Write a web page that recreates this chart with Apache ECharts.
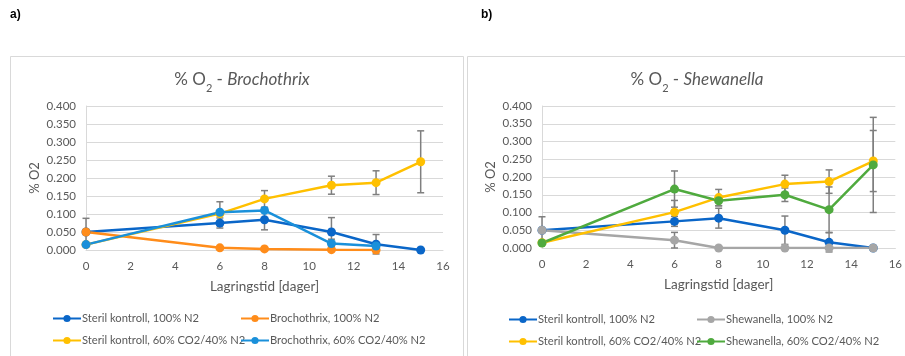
<!DOCTYPE html>
<html>
<head>
<meta charset="utf-8">
<script src="https://cdn.jsdelivr.net/npm/echarts@6/dist/echarts.min.js"></script>
<style>
  html, body { margin: 0; padding: 0; background: #fff; }
  #chart { width: 905px; height: 356px; }
</style>
</head>
<body>
<div id="chart"></div>
<script>
// storage days
const days = [0, 6, 8, 11, 13, 15]
const yTicks = { min: 0, max: 0.4, step: 0.05 }
const xTicks = { min: 0, max: 16, step: 2 }

// shared control series (both panels)
const sterilN2 = [0.050, 0.075, 0.084, 0.050, 0.016, 0.000]
const sterilN2Err = [0.038, 0.014, 0.028, 0.040, 0.027, 0]
const sterilCO2 = [0.015, 0.101, 0.142, 0.180, 0.187, 0.245]
const sterilCO2Err = [0, 0.033, 0.023, 0.025, 0.033, 0.086]

// a) Brochothrix
const brochoN2 = [0.050, 0.006, 0.003, 0.001, 0.000, null]
const brochoN2Err = [0, 0, 0, 0, 0, null]
const brochoCO2 = [0.015, 0.105, 0.110, 0.018, 0.011, null]
const brochoCO2Err = [0, 0, 0, 0.012, 0, null]

// b) Shewanella
const shewN2 = [0.050, 0.022, 0.000, 0.000, 0.000, 0.000]
const shewN2Err = [0, 0.022, 0, 0, 0, 0]
const shewCO2 = [0.014, 0.166, 0.133, 0.150, 0.108, 0.234]
const shewCO2Err = [0, 0.051, 0.014, 0.019, 0.064, 0.134]

const names = {
  sN2: 'Steril kontroll, 100% N2',
  sCO2: 'Steril kontroll, 60% CO2/40% N2',
  bN2: 'Brochothrix, 100% N2',
  bCO2: 'Brochothrix, 60% CO2/40% N2',
  wN2: 'Shewanella, 100% N2',
  wCO2: 'Shewanella, 60% CO2/40% N2'
}
const colors = {
  sN2: '#0A66C8',
  sCO2: '#FFC000',
  bN2: '#FF8C1A',
  bCO2: '#1A90DA',
  wN2: '#A6A6A6',
  wCO2: '#4FAA3E'
}

const FONT = 'Lato'
const TXT = '#595959'

function pairs(vals) {
  const out = []
  vals.forEach((v, i) => { if (v !== null) out.push([days[i], v]) })
  return out
}

function lineSeries(key, vals, idx) {
  return {
    name: names[key],
    type: 'line',
    xAxisIndex: idx,
    yAxisIndex: idx,
    data: pairs(vals),
    symbol: 'circle',
    symbolSize: 9,
    lineStyle: { width: 2.5, color: colors[key] },
    itemStyle: { color: colors[key] },
    z: 3
  }
}

function errSeries(vals, errs, idx) {
  const data = []
  vals.forEach((v, i) => {
    if (v !== null && errs[i]) data.push([days[i], v - errs[i], v + errs[i]])
  })
  return {
    type: 'custom',
    name: 'err',
    xAxisIndex: idx,
    yAxisIndex: idx,
    data: data,
    z: 2,
    silent: true,
    renderItem: function (params, api) {
      const lo = api.coord([api.value(0), api.value(1)])
      const hi = api.coord([api.value(0), api.value(2)])
      const w = 3.5
      const st = { stroke: '#7F7F7F', lineWidth: 1.5 }
      return {
        type: 'group',
        children: [
          { type: 'line', shape: { x1: lo[0], y1: lo[1], x2: hi[0], y2: hi[1] }, style: st },
          { type: 'line', shape: { x1: lo[0] - w, y1: lo[1], x2: lo[0] + w, y2: lo[1] }, style: st },
          { type: 'line', shape: { x1: hi[0] - w, y1: hi[1], x2: hi[0] + w, y2: hi[1] }, style: st }
        ]
      }
    }
  }
}

function xAxis(idx) {
  return {
    type: 'value', gridIndex: idx,
    min: xTicks.min, max: xTicks.max, interval: xTicks.step,
    name: 'Lagringstid [dager]', nameLocation: 'middle', nameGap: 30,
    nameTextStyle: { color: TXT, fontFamily: FONT, fontSize: 13.5 },
    axisLine: { lineStyle: { color: '#D9D9D9', width: 1 } },
    axisTick: { show: false },
    splitLine: { show: false },
    axisLabel: { color: TXT, fontFamily: FONT, fontSize: 11.5, margin: 10 }
  }
}

function yAxis(idx) {
  return {
    type: 'value', gridIndex: idx,
    min: yTicks.min, max: yTicks.max, interval: yTicks.step,
    name: '% O2', nameLocation: 'middle', nameGap: 45,
    nameTextStyle: { color: TXT, fontFamily: FONT, fontSize: 13 },
    axisLine: { show: true, lineStyle: { color: '#D9D9D9', width: 1 } },
    axisTick: { show: false },
    splitLine: { lineStyle: { color: '#D9D9D9', width: 1 } },
    axisLabel: { color: TXT, fontFamily: FONT, fontSize: 11.5, margin: 10, formatter: v => v.toFixed(3) }
  }
}

// one legend box per entry, so the 2x2 layout is fixed
function legendItem(name, left, top) {
  return {
    data: [name], left: left, top: top, padding: 0,
    itemWidth: 28, itemHeight: 9,
    textStyle: { color: TXT, fontFamily: FONT, fontSize: 11.2, padding: [0, 0, 0, -4] },
    selectedMode: false
  }
}

const titleRich = {
  n: { fontFamily: FONT, fontSize: 17, color: TXT, fontWeight: 'normal' },
  sub: { fontFamily: FONT, fontSize: 11, color: TXT, fontWeight: 'normal', verticalAlign: 'bottom', lineHeight: 28 },
  it: { fontFamily: FONT, fontSize: 17, color: TXT, fontStyle: 'italic', fontWeight: 'normal' }
}

const chart = echarts.init(document.getElementById('chart'))
chart.setOption({
  animation: false,
  backgroundColor: '#fff',
  graphic: [
    { type: 'rect', shape: { x: 10.5, y: 56.5, width: 453, height: 320 }, style: { fill: 'none', stroke: '#D9D9D9', lineWidth: 1 } },
    { type: 'rect', shape: { x: 467.5, y: 56.5, width: 460, height: 320 }, style: { fill: 'none', stroke: '#D9D9D9', lineWidth: 1 } },
    { type: 'text', left: 10, top: 9, style: { text: 'a)', fontFamily: 'Liberation Sans', fontWeight: 'bold', fontSize: 12, fill: '#000' } },
    { type: 'text', left: 481, top: 9, style: { text: 'b)', fontFamily: 'Liberation Sans', fontWeight: 'bold', fontSize: 12, fill: '#000' } }
  ],
  title: [
    { text: '{n|% O}{sub|2}{n| - }{it|Brochothrix}', left: 237, top: 61, textAlign: 'center', textStyle: { fontWeight: 'normal', rich: titleRich } },
    { text: '{n|% O}{sub|2}{n| - }{it|Shewanella}', left: 692, top: 61, textAlign: 'center', textStyle: { fontWeight: 'normal', rich: titleRich } }
  ],
  grid: [
    { left: 86, right: 462, top: 106, bottom: 106 },
    { left: 542, right: 8, top: 106, bottom: 108 }
  ],
  xAxis: [xAxis(0), xAxis(1)],
  yAxis: [yAxis(0), yAxis(1)],
  legend: [
    legendItem(names.sN2, 52, 313),
    legendItem(names.bN2, 240, 313),
    legendItem(names.sCO2, 52, 335),
    legendItem(names.bCO2, 240, 335),
    legendItem(names.sN2, 508, 314),
    legendItem(names.wN2, 696, 314),
    legendItem(names.sCO2, 508, 336),
    legendItem(names.wCO2, 696, 336)
  ],
  series: [
    errSeries(sterilN2, sterilN2Err, 0),
    errSeries(brochoN2, brochoN2Err, 0),
    errSeries(sterilCO2, sterilCO2Err, 0),
    errSeries(brochoCO2, brochoCO2Err, 0),
    lineSeries('sN2', sterilN2, 0),
    lineSeries('bN2', brochoN2, 0),
    lineSeries('sCO2', sterilCO2, 0),
    lineSeries('bCO2', brochoCO2, 0),
    errSeries(sterilN2, sterilN2Err, 1),
    errSeries(shewN2, shewN2Err, 1),
    errSeries(sterilCO2, sterilCO2Err, 1),
    errSeries(shewCO2, shewCO2Err, 1),
    lineSeries('sN2', sterilN2, 1),
    lineSeries('wN2', shewN2, 1),
    lineSeries('sCO2', sterilCO2, 1),
    lineSeries('wCO2', shewCO2, 1)
  ]
})
</script>
</body>
</html>
